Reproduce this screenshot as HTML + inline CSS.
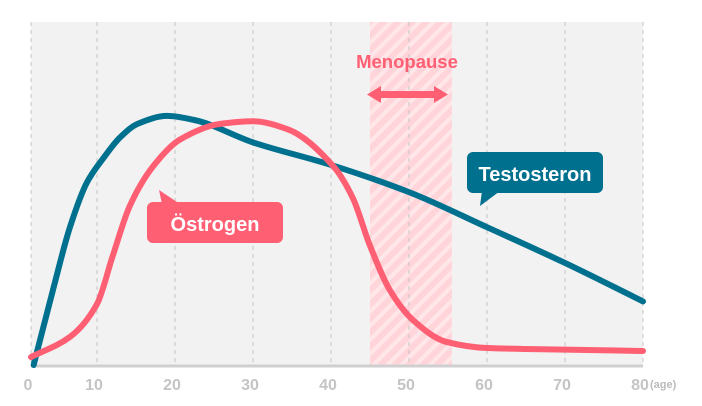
<!DOCTYPE html>
<html><head><meta charset="utf-8">
<style>
body{margin:0;background:#fff;}
svg{display:block;font-family:"Liberation Sans",sans-serif;}
</style></head>
<body>
<svg id="chart" width="702" height="406" viewBox="0 0 702 406">
<defs>
<pattern id="hatch" width="10" height="10" patternUnits="userSpaceOnUse" patternTransform="rotate(45)">
<rect width="10" height="10" fill="#ffd5da"/>
<rect width="4" height="10" fill="#ffe6e9"/>
</pattern>
</defs>
<rect x="31" y="22" width="612" height="343" fill="#f2f2f2"/>
<g id="grid"></g>
<rect id="band" fill="url(#hatch)"/>
<g id="gridOver"></g>
<line x1="31" x2="643" y1="366" y2="366" stroke="#cfcfcf" stroke-width="3"/>
<g id="ticks"></g>
<text x="650" y="388" font-size="11" font-weight="bold" fill="#bbb">(age)</text>
<path id="testo" fill="none" stroke="#00708f" stroke-width="6" stroke-linecap="round"/>
<path id="oestro" fill="none" stroke="#ff5f73" stroke-width="6" stroke-linecap="round"/>
<text x="407" y="68" text-anchor="middle" font-size="18.5" font-weight="bold" fill="#ff5f73">Menopause</text>
<g fill="#ff5f73">
<rect x="378" y="91" width="60" height="7"/>
<polygon points="367,94.5 381,86 381,103"/>
<polygon points="448,94.5 434,86 434,103"/>
</g>
<g>
<rect x="467" y="152" width="136" height="41" rx="6" fill="#00708f"/>
<polygon points="482,191 480,206 500,191" fill="#00708f"/>
<text x="535" y="181" text-anchor="middle" font-size="20" font-weight="bold" fill="#fff">Testosteron</text>
</g>
<g>
<rect x="147" y="202" width="136" height="41" rx="6" fill="#ff5f73"/>
<polygon points="162,204 159,190 180,204" fill="#ff5f73"/>
<text x="215" y="231" text-anchor="middle" font-size="20" font-weight="bold" fill="#fff">Östrogen</text>
</g>
</svg>
<script>
const tickAges=[0,10,20,30,40,50,60,70,80];
const tickLabels=["0","10","20","30","40","50","60","70","80"];
const menopause=[45,55.5];
const testoAges=[0.4,3.4,5.9,8.5,10.8,13,15.2,19,22.4,30,40,50.2,60,70,80];
const testoVals=[0,29,52,69,78,86,91,94,92.5,84,75.5,65,52,38.5,24];
const oestroAges=[0,5.9,10,12,14.2,17.2,20.6,25.8,30,34.4,40.3,42.8,45,47.6,50.5,54.8,60,70,80];
const oestroVals=[3,10.6,23,41,60,75,85,91,92,89,75,63,45,28,17,8.7,6.4,5.8,5.3];
function X(a){return a<=10?31+a*6.6:97+(a-10)*7.8;}
function Y(v){return 365-v*2.65;}
const NS="http://www.w3.org/2000/svg";
const grid=document.getElementById('grid'),ticks=document.getElementById('ticks'),go=document.getElementById('gridOver');
tickAges.forEach((a,i)=>{
  [grid,go].forEach(g=>{
    const l=document.createElementNS(NS,'line');
    
    
    l.setAttribute('x1',X(a));l.setAttribute('x2',X(a));l.setAttribute('y1',22);l.setAttribute('y2',365);
    l.setAttribute('stroke','#c4c4c4');l.setAttribute('stroke-dasharray','4 4');
    g.appendChild(l);
  });
  const t=document.createElementNS(NS,'text');
  
  
  t.setAttribute('x',X(a)-3);t.setAttribute('y',390);t.setAttribute('text-anchor','middle');
  t.setAttribute('font-size','16');t.setAttribute('font-weight','bold');t.setAttribute('fill','#c4c4c4');
  t.textContent=tickLabels[i];ticks.appendChild(t);
});
const b=document.getElementById('band');
b.setAttribute('x',X(menopause[0]));b.setAttribute('width',X(menopause[1])-X(menopause[0]));
b.setAttribute('y',22);b.setAttribute('height',343);
function path(ages,vals){
  const x=ages.map(X),y=vals.map(Y),n=x.length;
  const d=[],m=new Array(n);
  for(let i=0;i<n-1;i++)d.push((y[i+1]-y[i])/(x[i+1]-x[i]));
  m[0]=d[0];m[n-1]=d[n-2];
  for(let i=1;i<n-1;i++){
    if(d[i-1]*d[i]<=0)m[i]=0;
    else{const h0=x[i]-x[i-1],h1=x[i+1]-x[i];const w1=2*h1+h0,w2=h1+2*h0;m[i]=(w1+w2)/(w1/d[i-1]+w2/d[i]);}
  }
  let s='M'+x[0]+','+y[0];
  for(let i=0;i<n-1;i++){
    const h=(x[i+1]-x[i])/3;
    s+=' C'+(x[i]+h)+','+(y[i]+m[i]*h)+' '+(x[i+1]-h)+','+(y[i+1]-m[i+1]*h)+' '+x[i+1]+','+y[i+1];
  }
  return s;
}
document.getElementById('testo').setAttribute('d',path(testoAges,testoVals));
document.getElementById('oestro').setAttribute('d',path(oestroAges,oestroVals));
</script>
</body></html>
